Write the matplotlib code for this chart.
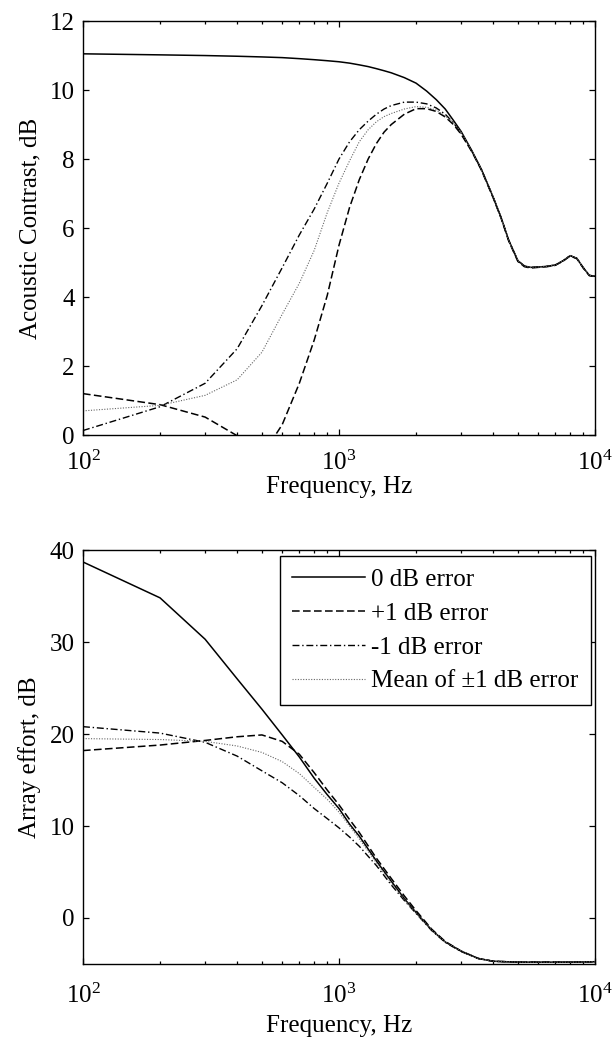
import matplotlib
matplotlib.use("Agg")
import matplotlib.pyplot as plt
from matplotlib.ticker import LogLocator, LogFormatterMathtext, NullFormatter, FixedLocator

plt.rcParams["font.family"] = ["Liberation Serif", "DejaVu Serif"]
plt.rcParams["mathtext.fontset"] = "custom"
plt.rcParams["mathtext.rm"] = "Liberation Serif"
plt.rcParams["mathtext.it"] = "Liberation Serif:italic"
plt.rcParams["font.size"] = 18

# acoustic contrast vs frequency (Hz -> dB)
freq_contrast = [100, 200, 300, 400, 500, 600, 700, 800, 900, 1000,
                 1100, 1200, 1300, 1400, 1500, 1600, 1800, 2000, 2200, 2400,
                 2600, 2800, 3000, 3300, 3600, 4000, 4300, 4600, 5000, 5300,
                 5600, 6000, 6500, 7000, 7500, 8000, 8500, 9000, 9500, 10000]
contrast_0db = [11.05, 11.02, 11.0, 10.98, 10.96, 10.94, 10.91, 10.88, 10.85, 10.82,
                10.78, 10.73, 10.68, 10.62, 10.56, 10.5, 10.36, 10.2, 9.97, 9.72,
                9.45, 9.12, 8.8, 8.25, 7.7, 6.9, 6.3, 5.65, 5.05, 4.9,
                4.86, 4.87, 4.89, 4.93, 5.05, 5.2, 5.12, 4.85, 4.63, 4.6]
contrast_plus1 = [1.2, 0.88, 0.52, -0.02, -0.6, 0.3, 1.5, 2.75, 4.05, 5.5,
                  6.6, 7.4, 8.0, 8.45, 8.78, 9.0, 9.3, 9.46, 9.46, 9.38,
                  9.22, 9.0, 8.72, 8.22, 7.68, 6.88, 6.28, 5.63, 5.03, 4.88,
                  4.84, 4.86, 4.88, 4.92, 5.04, 5.19, 5.11, 4.84, 4.62, 4.59]
contrast_minus1 = [0.13, 0.82, 1.5, 2.5, 3.75, 4.85, 5.8, 6.55, 7.3, 8.0,
                   8.5, 8.85, 9.1, 9.3, 9.45, 9.55, 9.65, 9.65, 9.6, 9.48,
                   9.3, 9.05, 8.75, 8.23, 7.7, 6.9, 6.3, 5.65, 5.05, 4.9,
                   4.86, 4.87, 4.89, 4.93, 5.05, 5.2, 5.12, 4.85, 4.63, 4.6]
contrast_mean = [0.7, 0.86, 1.15, 1.6, 2.4, 3.5, 4.4, 5.35, 6.45, 7.3,
                 7.95, 8.5, 8.85, 9.08, 9.23, 9.32, 9.45, 9.52, 9.5, 9.42,
                 9.25, 9.05, 8.78, 8.24, 7.7, 6.9, 6.3, 5.65, 5.05, 4.9,
                 4.86, 4.87, 4.89, 4.93, 5.05, 5.2, 5.12, 4.85, 4.63, 4.6]

# array effort vs frequency (Hz -> dB)
freq_effort = [100, 200, 300, 400, 500, 600, 700, 800, 900, 1000,
               1100, 1200, 1400, 1600, 1800, 2000, 2300, 2600, 3000, 3500,
               4000, 5000, 6000, 7000, 8000, 9000, 10000]
effort_0db = [38.7, 34.8, 30.3, 26.0, 22.7, 19.9, 17.5, 15.2, 13.4, 11.9,
              10.2, 8.9, 6.2, 4.0, 2.1, 0.6, -1.3, -2.6, -3.6, -4.4,
              -4.7, -4.8, -4.8, -4.8, -4.8, -4.78, -4.75]
effort_plus1 = [18.2, 18.8, 19.3, 19.7, 19.9, 19.2, 17.8, 15.8, 13.9, 12.3,
                10.7, 9.3, 6.5, 4.3, 2.4, 0.8, -1.2, -2.55, -3.6, -4.4,
                -4.7, -4.8, -4.8, -4.8, -4.8, -4.78, -4.75]
effort_minus1 = [20.8, 20.1, 19.1, 17.6, 16.0, 14.7, 13.3, 11.9, 10.8, 9.8,
                 8.8, 7.8, 5.7, 3.6, 1.9, 0.5, -1.35, -2.65, -3.65, -4.4,
                 -4.7, -4.8, -4.8, -4.8, -4.8, -4.78, -4.75]
effort_mean = [19.5, 19.4, 19.2, 18.7, 18.0, 17.0, 15.7, 14.2, 12.9, 11.5,
               10.0, 8.6, 6.0, 3.8, 2.0, 0.55, -1.3, -2.6, -3.6, -4.4,
               -4.7, -4.8, -4.8, -4.8, -4.8, -4.78, -4.75]

series_labels = ["0 dB error", "+1 dB error", "-1 dB error", "Mean of \u00b11 dB error"]
series_styles = [
    dict(color="black", linestyle="-", linewidth=1.1),
    dict(color="black", linestyle=(0, (5, 2.2)), linewidth=1.1),
    dict(color="black", linestyle=(0, (5, 2, 1, 2)), linewidth=1.0),
    dict(color="0.4", linestyle=(0, (1, 1.4)), linewidth=0.8),
]


def style_axes(ax, ymin, ymax, yticks, xpad, xlabelpad):
    ax.set_xscale("log")
    ax.set_xlim(100, 10000)
    ax.set_ylim(ymin, ymax)
    ax.xaxis.set_major_locator(LogLocator(base=10))
    ax.xaxis.set_major_formatter(LogFormatterMathtext())
    ax.xaxis.set_minor_locator(LogLocator(base=10, subs=range(2, 10)))
    ax.xaxis.set_minor_formatter(NullFormatter())
    ax.yaxis.set_major_locator(FixedLocator(yticks))
    ax.tick_params(which="both", direction="in", top=True, right=True, width=0.9)
    ax.tick_params(which="major", length=4)
    ax.tick_params(which="minor", length=2.5)
    ax.tick_params(axis="x", which="major", pad=xpad)
    ax.tick_params(axis="y", which="major", pad=6)
    for spine in ax.spines.values():
        spine.set_linewidth(1.0)
    ax.set_xlabel("Frequency, Hz", labelpad=xlabelpad)


fig = plt.figure(figsize=(6.12, 10.37), dpi=100)

ax_top = fig.add_axes([0.1356, 0.5805, 0.8366, 0.3992])
for values, style in zip([contrast_0db, contrast_plus1, contrast_minus1, contrast_mean], series_styles):
    ax_top.plot(freq_contrast, values, **style)
style_axes(ax_top, 0, 12, [0, 2, 4, 6, 8, 10, 12], xpad=11, xlabelpad=1)
ax_top.set_ylabel("Acoustic Contrast, dB", labelpad=6)

ax_bot = fig.add_axes([0.1356, 0.0704, 0.8366, 0.3992])
lines = []
for values, style, label in zip([effort_0db, effort_plus1, effort_minus1, effort_mean],
                                series_styles, series_labels):
    lines += ax_bot.plot(freq_effort, values, label=label, **style)
style_axes(ax_bot, -5, 40, [0, 10, 20, 30, 40], xpad=14.5, xlabelpad=5)
ax_bot.set_ylabel("Array effort, dB", labelpad=6)

legend = ax_bot.legend(handles=lines, loc="upper right", bbox_to_anchor=(0.992, 0.9855),
                       borderaxespad=0, fancybox=False, framealpha=1, edgecolor="black",
                       handlelength=2.9, handletextpad=0.25, labelspacing=0.45,
                       borderpad=0.5, fontsize=18)
legend.get_frame().set_linewidth(1.0)

fig.savefig("out.png", dpi=100)
